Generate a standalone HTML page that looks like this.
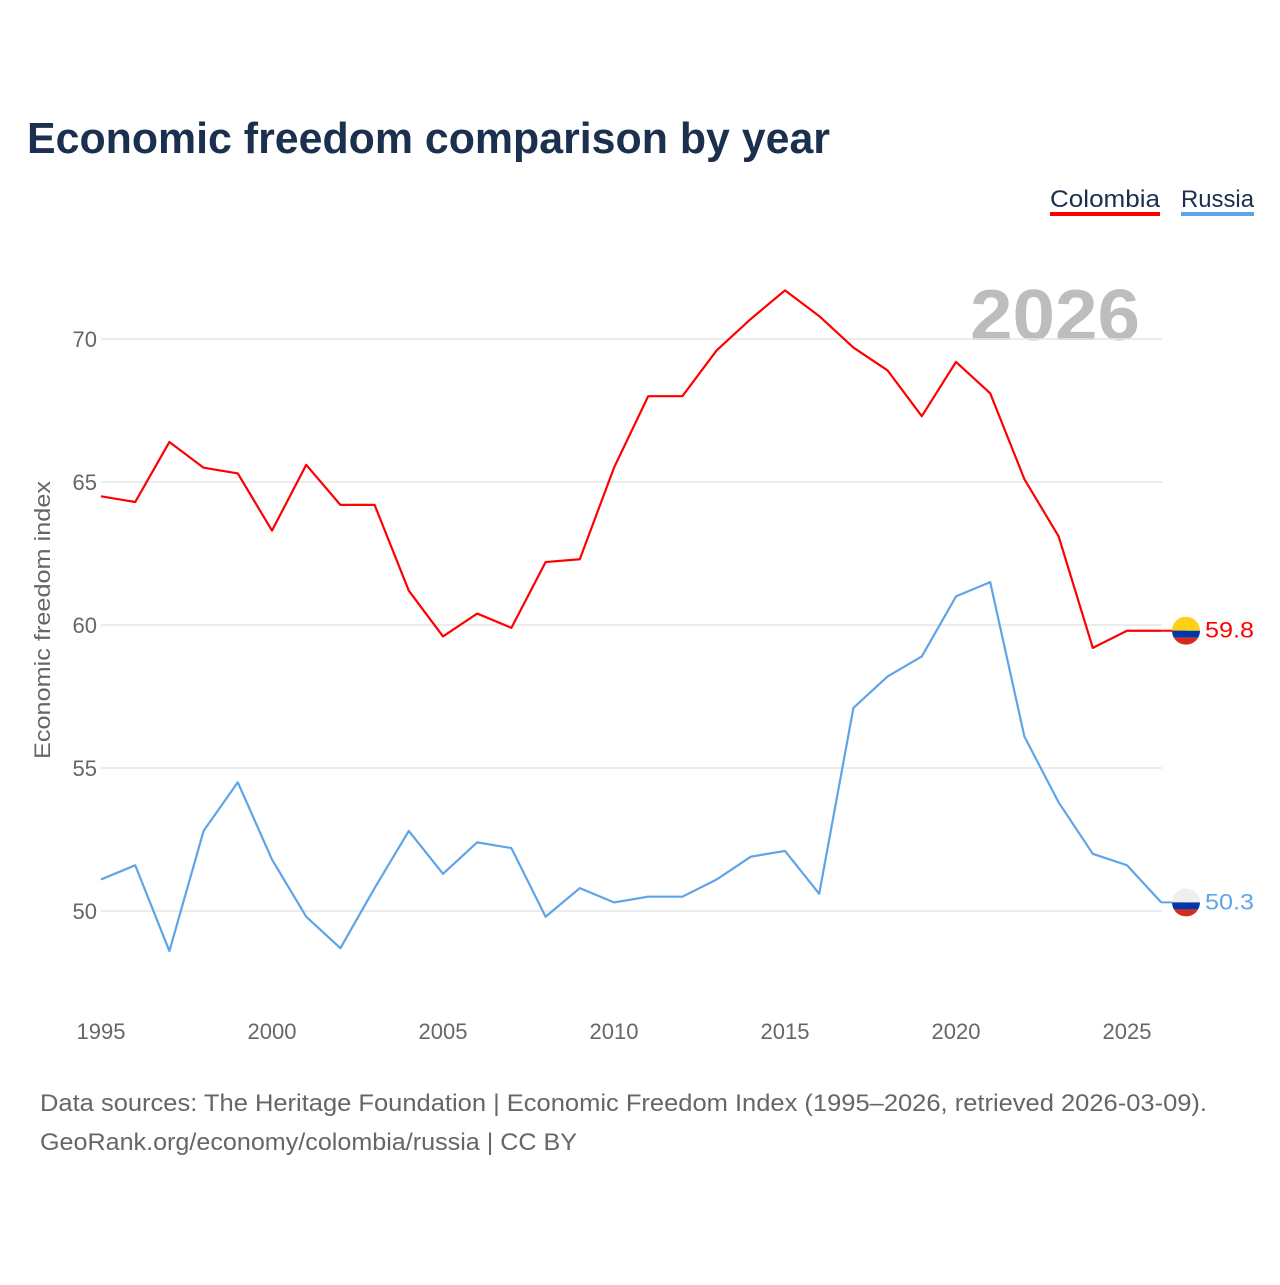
<!DOCTYPE html>
<html><head><meta charset="utf-8">
<style>
html,body{margin:0;padding:0;background:#fff;}
body{width:1280px;height:1280px;overflow:hidden;font-family:"Liberation Sans",sans-serif;}
</style></head>
<body>
<svg id="chart" width="1280" height="1280" xmlns="http://www.w3.org/2000/svg" font-family="Liberation Sans, sans-serif">
<text x="27" y="153" font-size="44" font-weight="bold" fill="#1b2f4e" textLength="803" lengthAdjust="spacingAndGlyphs">Economic freedom comparison by year</text>
<g>
<text x="1050" y="207" font-size="24" fill="#1b2f4e" textLength="110" lengthAdjust="spacingAndGlyphs">Colombia</text>
<rect x="1050" y="212" width="110" height="4" fill="#ff0000"/>
<text x="1181" y="207" font-size="24" fill="#1b2f4e" textLength="73" lengthAdjust="spacingAndGlyphs">Russia</text>
<rect x="1181" y="212" width="73" height="4" fill="#5da5e8"/>
</g>
<text x="970" y="340" font-size="72" font-weight="bold" fill="#bdbdbd" textLength="170" lengthAdjust="spacingAndGlyphs">2026</text>
<g id="grid"></g>
<g id="yticks"></g>
<g id="xticks"></g>
<text transform="translate(50,620) rotate(-90)" font-size="22" fill="#666" text-anchor="middle" textLength="278" lengthAdjust="spacingAndGlyphs">Economic freedom index</text>
<g id="series"></g>
<text x="40" y="1111" font-size="24" fill="#666" textLength="1167" lengthAdjust="spacingAndGlyphs">Data sources: The Heritage Foundation | Economic Freedom Index (1995–2026, retrieved 2026-03-09).</text>
<text x="40" y="1150" font-size="24" fill="#666" textLength="537" lengthAdjust="spacingAndGlyphs">GeoRank.org/economy/colombia/russia | CC BY</text>
</svg>
<script>
const years = [1995,1996,1997,1998,1999,2000,2001,2002,2003,2004,2005,2006,2007,2008,2009,2010,2011,2012,2013,2014,2015,2016,2017,2018,2019,2020,2021,2022,2023,2024,2025,2026];
const colombia = [64.5,64.3,66.4,65.5,65.3,63.3,65.6,64.2,64.2,61.2,59.6,60.4,59.9,62.2,62.3,65.5,68.0,68.0,69.6,70.7,71.7,70.8,69.7,68.9,67.3,69.2,68.1,65.1,63.1,59.2,59.8,59.8];
const russia = [51.1,51.6,48.6,52.8,54.5,51.8,49.8,48.7,50.8,52.8,51.3,52.4,52.2,49.8,50.8,50.3,50.5,50.5,51.1,51.9,52.1,50.6,57.1,58.2,58.9,61.0,61.5,56.1,53.8,52.0,51.6,50.3];
const yTicks = [50,55,60,65,70];
const xTicks = [1995,2000,2005,2010,2015,2020,2025];

const NS="http://www.w3.org/2000/svg";
const X = y => 101 + (y-1995)*(1127-101)/30;
const Y = v => 911 - (v-50)*(911-339)/20;
function mk(tag, attrs, parent){const e=document.createElementNS(NS,tag);for(const k in attrs)e.setAttribute(k,attrs[k]);parent.appendChild(e);return e;}
const grid=document.getElementById('grid'), yt=document.getElementById('yticks'), xt=document.getElementById('xticks'), ser=document.getElementById('series');
yTicks.forEach(v=>{
  const l=mk('line',{x1:101,x2:1162,y1:Y(v),y2:Y(v),stroke:'#e6e6e6','stroke-width':1.5},grid);
  
  
  const t=mk('text',{x:97,y:Y(v)+8,'font-size':22,fill:'#666','text-anchor':'end'},yt);
  t.textContent=v;
  
  
});
xTicks.forEach(v=>{
  const t=mk('text',{x:X(v),y:1039,'font-size':22,fill:'#666','text-anchor':'middle'},xt);
  t.textContent=v;
  
  
});
function drawSeries(vals,color,name,flagTop,flagMid){
  const p=mk('polyline',{points:vals.map((v,i)=>X(years[i])+','+Y(v)).join(' '),fill:'none',stroke:color,'stroke-width':2.2,'stroke-linejoin':'round'},ser);
  
  
  const last=vals[vals.length-1], cy=Y(last), cx=1186;
  const c=mk('line',{x1:X(years[years.length-1]),x2:cx,y1:cy,y2:cy,stroke:color,'stroke-width':2},ser);
  
  
  const g=mk('g',{},ser);
  
  
  mk('clipPath',{id:'cp'+name},g);
  mk('circle',{cx:cx,cy:cy,r:14},document.getElementById('cp'+name));
  const gg=mk('g',{'clip-path':'url(#cp'+name+')'},g);
  mk('rect',{x:cx-14,y:cy-14,width:28,height:14,fill:flagTop},gg);
  mk('rect',{x:cx-14,y:cy,width:28,height:7,fill:flagMid},gg);
  mk('rect',{x:cx-14,y:cy+7,width:28,height:7,fill:'#d52b1e'},gg);
  const t=mk('text',{x:1205,y:cy+7,'font-size':22,fill:color,textLength:49,lengthAdjust:'spacingAndGlyphs'},ser);
  t.textContent=last.toFixed(1);
  
  
}
drawSeries(colombia,'#ff0000','colombia','#fcd116','#0038a8');
drawSeries(russia,'#5da5e8','russia','#eeeeee','#0039a6');
</script>
</body></html>
